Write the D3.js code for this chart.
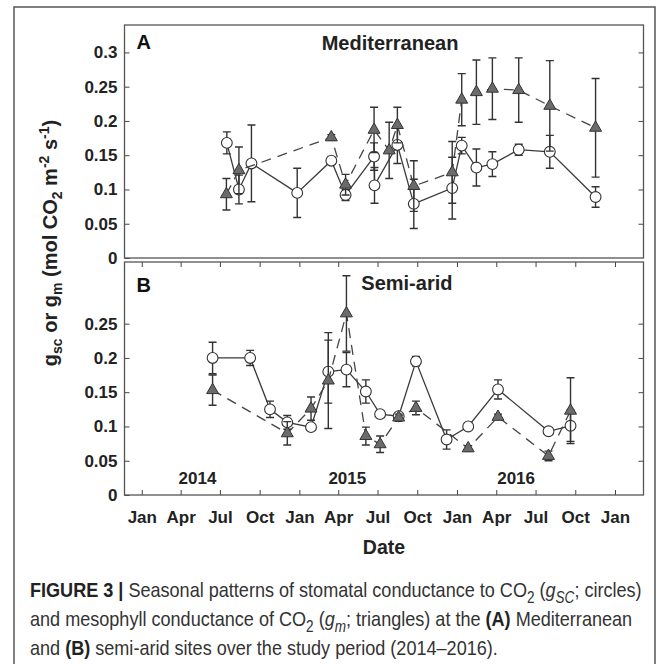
<!DOCTYPE html>
<html lang="en">
<head>
<meta charset="utf-8">
<title>Seasonal gsc and gm</title>
<script src="https://cdn.jsdelivr.net/npm/d3@7"></script>
<style>
  body { margin: 0; background: #fff; }
  svg { display: block; font-family: "Liberation Sans", Arial, sans-serif; }
  .tick text { font-weight: bold; font-size: 17px; fill: #222; }
  .tick line { stroke: #444; }
</style>
</head>
<body>
<svg></svg>
<script>

// (A) Mediterranean - stomatal conductance (circles)
var medGscDates = ["2014-07-17","2014-08-14","2014-09-12","2014-12-27","2015-03-16","2015-04-18","2015-06-23","2015-06-24","2015-08-16","2015-09-23","2015-12-21","2016-01-12","2016-02-15","2016-03-23","2016-05-23","2016-08-03","2016-11-17"];
var medGsc    = [0.168, 0.100, 0.138, 0.095, 0.142, 0.092, 0.148, 0.106, 0.165, 0.079, 0.102, 0.164, 0.132, 0.137, 0.158, 0.155, 0.089];
var medGscErr = [0.016, 0.021, 0.056, 0.036, 0.005, 0.008, 0.020, 0.026, 0.027, 0.036, 0.045, 0.012, 0.027, 0.018, 0.008, 0.024, 0.015];

// (A) Mediterranean - mesophyll conductance (triangles)
var medGmDates = ["2014-07-16","2014-08-14","2015-03-16","2015-04-18","2015-06-23","2015-07-28","2015-08-16","2015-09-23","2015-12-21","2016-01-12","2016-02-15","2016-03-23","2016-05-23","2016-08-03","2016-11-17"];
var medGm    = [0.093, 0.128, 0.176, 0.107, 0.187, 0.157, 0.194, 0.105, 0.125, 0.231, 0.242, 0.247, 0.245, 0.222, 0.190];
var medGmErr = [0.023, 0.034, 0.004, 0.015, 0.033, 0.041, 0.026, 0.037, 0.045, 0.038, 0.047, 0.045, 0.047, 0.066, 0.072];

// (B) Semi-arid - stomatal conductance (circles)
var semGscDates = ["2014-06-14","2014-09-09","2014-10-25","2014-12-04","2015-01-28","2015-03-09","2015-04-20","2015-06-04","2015-07-07","2015-08-19","2015-09-28","2015-12-08","2016-01-27","2016-04-05","2016-07-31","2016-09-20"];
var semGsc    = [0.200, 0.200, 0.125, 0.106, 0.099, 0.180, 0.183, 0.151, 0.118, 0.115, 0.195, 0.081, 0.100, 0.154, 0.093, 0.101];
var semGscErr = [0.023, 0.011, 0.012, 0.010, 0.005, 0.046, 0.025, 0.017, 0.005, 0.005, 0.007, 0.014, 0.004, 0.014, 0.004, 0.023];

// (B) Semi-arid - mesophyll conductance (triangles)
var semGmDates = ["2014-06-14","2014-12-04","2015-01-28","2015-03-09","2015-04-20","2015-06-04","2015-07-07","2015-08-19","2015-09-28","2016-01-27","2016-04-05","2016-07-31","2016-09-20"];
var semGm    = [0.153, 0.090, 0.126, 0.167, 0.265, 0.086, 0.074, 0.113, 0.127, 0.068, 0.114, 0.057, 0.123];
var semGmErr = [0.022, 0.017, 0.017, 0.070, 0.055, 0.013, 0.012, 0.005, 0.010, 0.004, 0.004, 0.007, 0.048];

// axis ticks
var medYTicks = [0, 0.05, 0.1, 0.15, 0.2, 0.25, 0.3];
var semYTicks = [0, 0.05, 0.1, 0.15, 0.2, 0.25];
var xTickDates = ["2014-01-01","2014-04-01","2014-07-01","2014-10-01","2015-01-01","2015-04-01","2015-07-01","2015-10-01","2016-01-01","2016-04-01","2016-07-01","2016-10-01","2017-01-01"];
var xTickLabels = ["Jan","Apr","Jul","Oct","Jan","Apr","Jul","Oct","Jan","Apr","Jul","Oct","Jan"];
var yearLabels = ["2014", "2015", "2016"];
var yearDates = ["2014-05-10", "2015-04-22", "2016-05-17"];

//Width and height
var w = 669;
var h = 664;
var left = 124.5, right = 643.5;

var svg = d3.select("svg").attr("width", w).attr("height", h);
var parse = d3.timeParse("%Y-%m-%d");

var x = d3.scaleTime()
    .domain([parse("2013-11-22"), parse("2017-03-08")])
    .range([left, right]);

// outer frame of the figure (bottom edge runs off the page)
svg.append("rect")
    .attr("x", 14).attr("y", 7)
    .attr("width", 641).attr("height", h + 20)
    .attr("fill", "none").attr("stroke", "#555").attr("stroke-width", 1.5);

function zip(dates, vals, errs) {
    return dates.map((d, i) => ({ date: parse(d), v: vals[i], e: errs[i] }));
}

var panels = [
    { top: 25, bottom: 258, letter: "A", letterDy: 24, title: "Mediterranean", titleDate: "2015-07-30", titleDy: 25,
      gsc: zip(medGscDates, medGsc, medGscErr), gm: zip(medGmDates, medGm, medGmErr), yTicks: medYTicks, dateAxis: false },
    { top: 262, bottom: 495, letter: "B", letterDy: 30, title: "Semi-arid", titleDate: "2015-09-07", titleDy: 28,
      gsc: zip(semGscDates, semGsc, semGscErr), gm: zip(semGmDates, semGm, semGmErr), yTicks: semYTicks, dateAxis: true }
];

var triangle = d3.symbol().type(d3.symbolTriangle).size(62);

panels.forEach(function(p) {
    var y = d3.scaleLinear().domain([0, 0.34]).range([p.bottom, p.top]);
    var g = svg.append("g");

    // y axes, ticks pointing inward
    g.append("g")
        .attr("transform", `translate(${left},0)`)
        .call(d3.axisLeft(y).tickValues(p.yTicks).tickSize(-5).tickPadding(7).tickFormat(d => d))
        .call(a => a.select(".domain").remove());
    g.append("g")
        .attr("transform", `translate(${right},0)`)
        .call(d3.axisRight(y).tickValues(p.yTicks.filter(d => d > 0)).tickSize(-5).tickFormat(""))
        .call(a => a.select(".domain").remove());

    if (p.dateAxis) {
        var tickDates = xTickDates.map(parse);
        g.append("g")
            .attr("transform", `translate(0,${p.bottom})`)
            .call(d3.axisBottom(x).tickValues(tickDates).tickSize(-5).tickPadding(16)
                .tickFormat((d, i) => xTickLabels[i]))
            .call(a => a.select(".domain").remove());
        g.append("g")
            .attr("transform", `translate(0,${p.top})`)
            .call(d3.axisTop(x).tickValues(tickDates).tickSize(-5).tickFormat(""))
            .call(a => a.select(".domain").remove());

        g.selectAll(".year")
            .data(yearLabels).enter()
            .append("text")
            .attr("x", (d, i) => x(parse(yearDates[i])))
            .attr("y", y(0.025))
            .attr("dy", "0.36em")
            .attr("text-anchor", "middle")
            .attr("font-weight", "bold").attr("font-size", 17).attr("fill", "#222")
            .text(d => d);
    }

    // panel box
    g.append("rect")
        .attr("x", left).attr("y", p.top)
        .attr("width", right - left).attr("height", p.bottom - p.top)
        .attr("fill", "none").attr("stroke", "#555").attr("stroke-width", 1.3);

    g.append("text")
        .attr("x", left + 12).attr("y", p.top + p.letterDy)
        .attr("font-weight", "bold").attr("font-size", 20).attr("fill", "#111")
        .text(p.letter);
    g.append("text")
        .attr("x", x(parse(p.titleDate))).attr("y", p.top + p.titleDy)
        .attr("text-anchor", "middle")
        .attr("font-weight", "bold").attr("font-size", 20).attr("fill", "#222")
        .text(p.title);

    var line = d3.line().x(d => x(d.date)).y(d => y(d.v));

    function errorBars(data) {
        g.append("g").selectAll("path")
            .data(data).enter()
            .append("path")
            .attr("d", d => {
                var cx = x(d.date), lo = y(d.v - d.e), hi = y(d.v + d.e);
                return `M${cx},${lo}V${hi}M${cx - 4},${lo}H${cx + 4}M${cx - 4},${hi}H${cx + 4}`;
            })
            .attr("fill", "none").attr("stroke", "#333").attr("stroke-width", 1.4);
    }

    // gsc: solid line, white circles
    g.append("path").datum(p.gsc)
        .attr("d", line)
        .attr("fill", "none").attr("stroke", "#3a3a3a").attr("stroke-width", 1.3);
    errorBars(p.gsc);
    g.append("g").selectAll("circle")
        .data(p.gsc).enter()
        .append("circle")
        .attr("cx", d => x(d.date)).attr("cy", d => y(d.v))
        .attr("r", 5.4)
        .attr("fill", "#fff").attr("stroke", "#333").attr("stroke-width", 1.1);

    // gm: dashed line, grey triangles
    g.append("path").datum(p.gm)
        .attr("d", line)
        .attr("fill", "none").attr("stroke", "#444").attr("stroke-width", 1.3)
        .attr("stroke-dasharray", "10,7");
    errorBars(p.gm);
    g.append("g").selectAll("path")
        .data(p.gm).enter()
        .append("path")
        .attr("d", triangle)
        .attr("transform", d => `translate(${x(d.date)},${y(d.v)})`)
        .attr("fill", "#6b6b6b").attr("stroke", "#333").attr("stroke-width", 1);
});

// y axis title
var yt = svg.append("text")
    .attr("transform", "translate(57,243) rotate(-90)")
    .attr("text-anchor", "middle")
    .attr("font-weight", "bold").attr("font-size", 20).attr("fill", "#222");
var ytParts = [["g", 0], ["sc", 5], [" or g", -5], ["m", 5], [" (mol CO", -5], ["2", 5], [" m", -5], ["-2", -8], [" s", 8], ["-1", -8], [")", 8]];
ytParts.forEach(function(t) {
    var small = (t[0] === "sc" || t[0] === "m" || t[0] === "2" || t[0] === "-2" || t[0] === "-1");
    yt.append("tspan").attr("dy", t[1]).attr("font-size", small ? 14 : 20).text(t[0]);
});

svg.append("text")
    .attr("x", (left + right) / 2).attr("y", 554)
    .attr("text-anchor", "middle")
    .attr("font-weight", "bold").attr("font-size", 19.5).attr("fill", "#222")
    .text("Date");

// caption; segments: text, bold, italic, sub
var capLines = [
    [["FIGURE 3 |", 1, 0, 0], [" Seasonal patterns of stomatal conductance to CO", 0, 0, 0], ["2", 0, 0, 1], [" (", 0, 0, 0], ["g", 0, 1, 0], ["SC", 0, 1, 1], ["; circles)", 0, 0, 0]],
    [["and mesophyll conductance of CO", 0, 0, 0], ["2", 0, 0, 1], [" (", 0, 0, 0], ["g", 0, 1, 0], ["m", 0, 1, 1], ["; triangles) at the ", 0, 0, 0], ["(A)", 1, 0, 0], [" Mediterranean", 0, 0, 0]],
    [["and ", 0, 0, 0], ["(B)", 1, 0, 0], [" semi-arid sites over the study period (2014\u20132016).", 0, 0, 0]]
];
var capY = [597, 626, 655];
var capFs = 21;

// the caption face is condensed: draw at full height, then squeeze horizontally
var cap = svg.append("g").attr("fill", "#333");

capLines.forEach(function(segs, li) {
    var t = cap.append("text").attr("x", 0).attr("y", capY[li]).attr("font-size", capFs);
    var shifted = false;
    segs.forEach(function(s) {
        var dy = 0;
        if (s[3] && !shifted) { dy = capFs * 0.3; shifted = true; }
        else if (!s[3] && shifted) { dy = -capFs * 0.3; shifted = false; }
        t.append("tspan")
            .attr("dy", dy)
            .attr("font-size", s[3] ? capFs * 0.75 : capFs)
            .attr("font-weight", s[1] ? "bold" : null)
            .attr("font-style", s[2] ? "italic" : null)
            .attr("fill", s[1] ? "#222" : null)
            .text(s[0]);
    });
});

var firstWidth = cap.select("text").node().getComputedTextLength();
cap.attr("transform", `translate(30,0) scale(${612 / firstWidth},1)`);

</script>
</body>
</html>
